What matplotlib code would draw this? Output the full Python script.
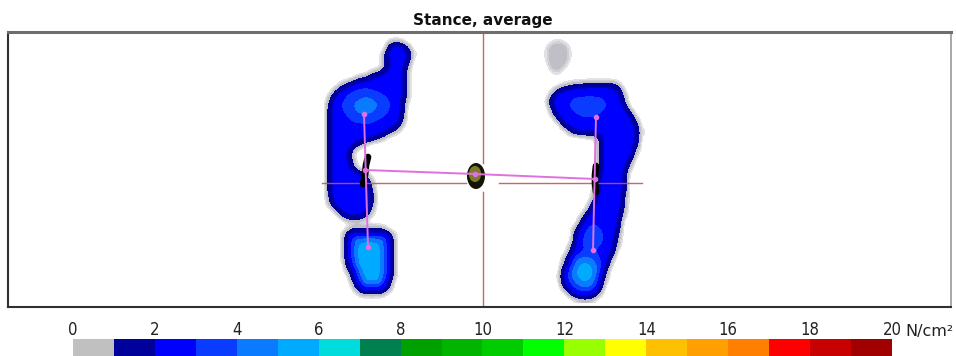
import numpy as np
import matplotlib
matplotlib.use('Agg')
import matplotlib.pyplot as plt
from matplotlib.colors import ListedColormap, BoundaryNorm
from matplotlib.patches import Ellipse
from matplotlib.font_manager import FontProperties
import matplotlib.cm as cm

# ---------------- data ----------------
title = 'Stance, average'
unit_label = 'N/cm²'
level_colors = ['#c0c0c0', '#00009a', '#0000ff', '#0a3cff', '#0a7aff',
                '#00aaff', '#00dcdc', '#008050', '#00a000', '#00b400',
                '#00cc00', '#00ff00', '#99ff00', '#ffff00', '#ffc000',
                '#ffa000', '#ff8000', '#ff0000', '#c80000', '#a00000']
level_bounds = list(range(0, 21))
tick_values = list(range(0, 21, 2))
# on the plate the lowest bands are drawn with soft transitions (grey fringe, navy rim)
edge_bounds = [0.2, 0.35, 0.5, 0.85, 1.7]
edge_colors = ['#e2e2e6', '#d0d0d5', '#bfbfc5', '#00009a', '#0000c8']

# pressure grids (sensor spacing 6 units); each character = pressure in 0.25 N/cm² steps
code_chars = '0123456789abcdefghijklmno'
grid_step = 6
left_foot_origin = (324, 36)
left_foot_rows = [
    "0000000000000000",
    "0000000000023200",
    "000000000007a940",
    "000000000039aa71",
    "000000000038aa60",
    "000000000028a930",
    "000000002369a820",
    "0000013479aaa820",
    "0002479aaaaaa820",
    "0037acddcbbaa820",
    "028adefgfecba820",
    "04aceghihgeca710",
    "06acegijhgeca600",
    "06abdfgggedba600",
    "06aabddedcbaa400",
    "06aaabbbbaa97200",
    "06aaaaaaa9842000",
    "06aaaa9874200000",
    "06aaa74200000000",
    "06aa820000000000",
    "06aa710000000000",
    "06aa820000000000",
    "06aa940000000000",
    "06aaaa7300000000",
    "06aaaaa620000000",
    "06aaaaa930000000",
    "06aacaaa40000000",
    "04aaaaaa60000000",
    "039aaaaa40000000",
    "0039aaa830000000",
    "0003777410000000",
    "0000111000000000",
    "0000133333200000",
    "0001699999941000",
    "00017gjjjjg71000",
    "00017gmmmmg71000",
    "00017gmmmmg71000",
    "00017gmmmmg71000",
    "00006emmmmg71000",
    "000039jmmmg71000",
    "000017gmmmg71000",
    "000004ckkkd40000",
    "0000027bbb830000",
    "0000002333200000",
    "0000000000000000",
]
right_foot_origin = (540, 36)
right_foot_rows = [
    "000000000000000000",
    "001210000000000000",
    "013331000000000000",
    "013331000000000000",
    "013331000000000000",
    "003320000000000000",
    "001200000000000000",
    "000000000000000000",
    "000012334444420000",
    "00147899aaaa971000",
    "0049abcccccba93000",
    "017abcddeddcba4000",
    "004abcdeeedcba8100",
    "0028abcdddcbaaa600",
    "00039aabbbaaaaa930",
    "000048aaaaaaaaaa60",
    "00000367789aaaaa71",
    "00000000114aaaaa70",
    "00000000004aaaaa60",
    "00000000004aaaa930",
    "00000000004aaaa810",
    "00000000004aaaa400",
    "00000000004aaa8200",
    "00000000006aaa7000",
    "00000000017aaa6000",
    "00000000018aaa6000",
    "00000000028aba6000",
    "00000000039aca4000",
    "0000000016aaba4000",
    "0000000039aaa93000",
    "000000028aaaa82000",
    "00000006acbaa70000",
    "00000038ddcba60000",
    "0000006beedba40000",
    "0000007ceedb930000",
    "0000028cddcb820000",
    "0000049cccba700000",
    "000027fhhfc9300000",
    "00003aillid8100000",
    "00006ekmmkd4000000",
    "00017fkmmk93000000",
    "00007dhkkh81000000",
    "000039dggd60000000",
    "000003899720000000",
    "000000122100000000",
]

# plate geometry / overlays (plate units)
plate_x = (8, 951)
plate_y = (32, 307)
cross_x, cross_y = 483, 183
cross_h_segments = [(322, 466), (499, 642)]
cross_v_segments = [(32, 163), (192, 307)]
left_axis_x, left_axis_y = [364, 368], [114, 247]
right_axis_x, right_axis_y = [596, 593], [117, 250]
cop_line_x, cop_line_y = [365, 475, 595], [170, 174, 179]
left_cop_x, left_cop_y = [368, 366, 365, 363], [157, 165, 175, 184]
right_cop_x, right_cop_y = [596, 595, 595, 596], [166, 175, 183, 192]
center_cop = (476, 176)
center_cop_size = (18, 26)

# ---------------- plotting ----------------
W, H = 956, 356
fig = plt.figure(figsize=(W / 100, H / 100), dpi=100)
fig.patch.set_facecolor('white')

ax = fig.add_axes([plate_x[0] / W, 1 - plate_y[1] / H,
                   (plate_x[1] - plate_x[0]) / W, (plate_y[1] - plate_y[0]) / H])

map_cmap = ListedColormap(edge_colors + level_colors[2:])
map_cmap.set_under((1, 1, 1, 0))
map_cmap.set_over(level_colors[-1])
map_norm = BoundaryNorm(edge_bounds + level_bounds[2:], map_cmap.N)


def decode(rows):
    return np.array([[code_chars.index(c) * 0.25 for c in r] for r in rows])


for rows, (x0, y0) in [(left_foot_rows, left_foot_origin),
                       (right_foot_rows, right_foot_origin)]:
    data = decode(rows)
    ny, nx = data.shape
    ext = (x0 - grid_step / 2, x0 + (nx - 0.5) * grid_step,
           y0 + (ny - 0.5) * grid_step, y0 - grid_step / 2)
    ax.imshow(data, cmap=map_cmap, norm=map_norm, extent=ext, origin='upper',
              interpolation='bicubic', interpolation_stage='data',
              aspect='auto', zorder=1)

red = '#c05858'
for a, b in cross_h_segments:
    ax.plot([a, b], [cross_y, cross_y], color=red, lw=1.0, alpha=0.9, zorder=2)
for a, b in cross_v_segments:
    ax.plot([cross_x, cross_x], [a, b], color=red, lw=1.0, alpha=0.9, zorder=2)

ax.plot(left_cop_x, left_cop_y, color='black', lw=4.8, solid_capstyle='round', zorder=3)
ax.plot(right_cop_x, right_cop_y, color='black', lw=4.8, solid_capstyle='round', zorder=3)
ax.add_patch(Ellipse(center_cop, center_cop_size[0], center_cop_size[1],
                     facecolor='#141405', edgecolor='none', zorder=3))
ax.add_patch(Ellipse((center_cop[0] - 1, center_cop[1] - 2), center_cop_size[0] * 0.68,
                     center_cop_size[1] * 0.62, facecolor='#7a7a2a',
                     edgecolor='none', zorder=3))

mag = '#e070e0'
for xs, ys in [(left_axis_x, left_axis_y), (right_axis_x, right_axis_y),
               (cop_line_x, cop_line_y)]:
    ax.plot(xs, ys, color=mag, lw=1.4, marker='o', ms=3.0, mec=mag, mfc=mag, zorder=5)

ax.set_xlim(*plate_x)
ax.set_ylim(plate_y[1], plate_y[0])
ax.set_xticks([])
ax.set_yticks([])
ax.spines['top'].set_color('#6e6e6e')
ax.spines['top'].set_linewidth(2.2)
ax.spines['left'].set_color('#303030')
ax.spines['left'].set_linewidth(1.5)
ax.spines['bottom'].set_color('#303030')
ax.spines['bottom'].set_linewidth(1.5)
ax.spines['right'].set_color('#9a9a9a')
ax.spines['right'].set_linewidth(1.2)

fig.text(483 / W, 1 - 21 / H, title, ha='center', va='center',
         fontsize=11, fontweight='bold', color='#111111')

# colour scale
label_fp = FontProperties(family=['Liberation Sans Narrow', 'DejaVu Sans'],
                          stretch='condensed', size=12)
unit_fp = FontProperties(family='DejaVu Sans', size=11.5)
cax = fig.add_axes([73 / W, 0, 819 / W, 17 / H])
sm = cm.ScalarMappable(norm=BoundaryNorm(level_bounds, len(level_colors)),
                       cmap=ListedColormap(level_colors))
cb = fig.colorbar(sm, cax=cax, orientation='horizontal', ticks=tick_values,
                  drawedges=False)
cb.outline.set_visible(False)
cb.minorticks_off()
cax.xaxis.set_ticks_position('top')
cax.tick_params(which='both', length=0, pad=0, labelcolor='#222222')
for t in cax.get_xticklabels():
    t.set_fontproperties(label_fp)
fig.text(905 / W, 1 - 336 / H, unit_label, ha='left', va='baseline',
         color='#222222', fontproperties=unit_fp)

fig.savefig('out.png', dpi=100, facecolor='white')
